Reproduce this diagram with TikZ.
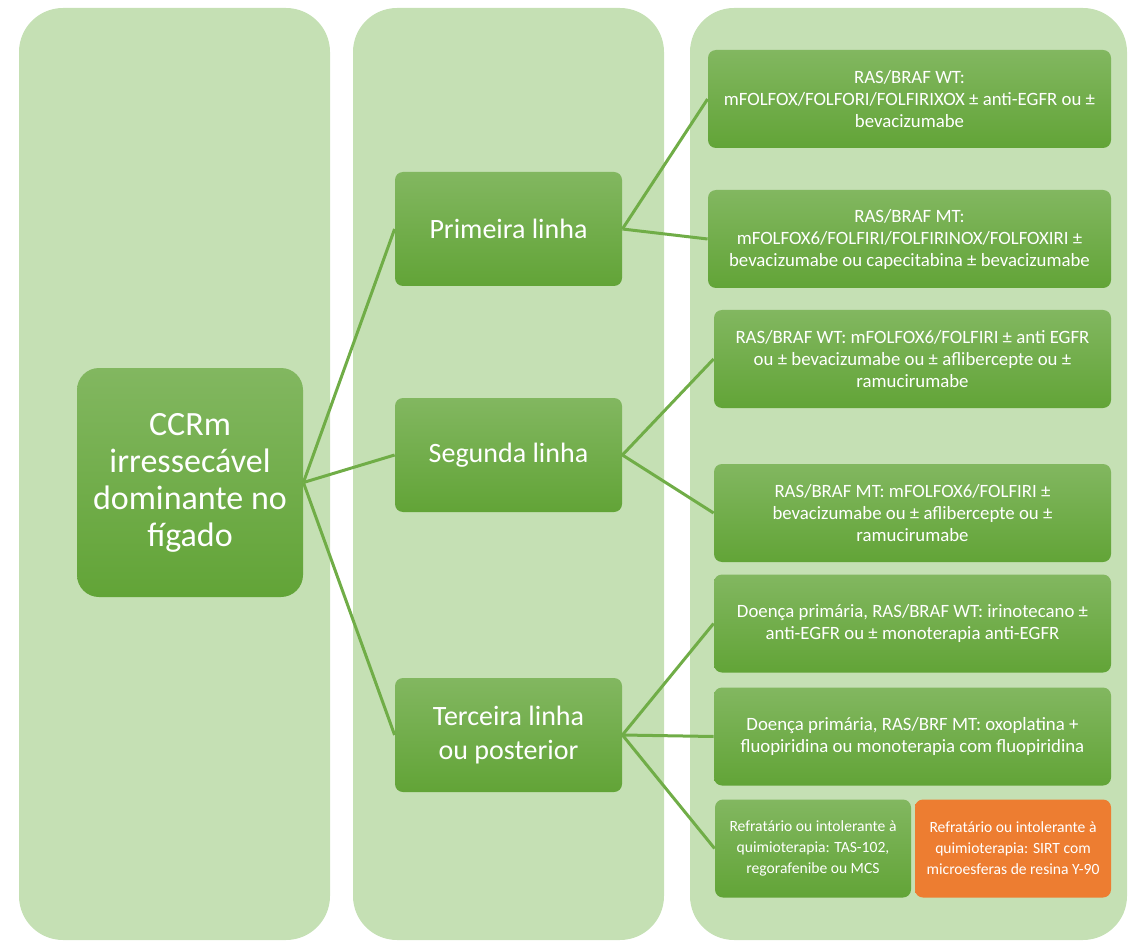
\documentclass[tikz,border=0pt]{standalone}
\usepackage{fontspec}
\setmainfont{Carlito}
\definecolor{colbg}{HTML}{C5E0B4}
\definecolor{boxtop}{HTML}{82B760}
\definecolor{boxbot}{HTML}{62A437}
\definecolor{linkgreen}{HTML}{70AD47}
\definecolor{sirtorange}{HTML}{ED7D31}
\begin{document}
\begin{tikzpicture}[x=0.5pt,y=-0.5pt,
  lane/.style={fill=colbg,rounded corners=22pt},
  greenbox/.style={top color=boxtop,bottom color=boxbot,rounded corners=4pt,
    text=white,align=center,inner sep=0pt},
  rootbox/.style={greenbox,rounded corners=11pt,minimum width=113pt,minimum height=114.5pt,
    font=\fontsize{17}{18.5}\selectfont},
  linebox/.style={greenbox,minimum width=113.5pt,minimum height=57pt,
    font=\fontsize{14}{17}\selectfont},
  wideopt/.style={greenbox,minimum width=201.5pt,minimum height=49pt,
    font=\fontsize{9.4}{11}\selectfont},
  opt/.style={greenbox,minimum width=198.5pt,minimum height=49pt,
    font=\fontsize{9.4}{11}\selectfont},
  halfopt/.style={greenbox,minimum width=98pt,minimum height=49pt,
    font=\fontsize{7.8}{10.5}\selectfont},
  link/.style={draw=linkgreen,line width=1.5pt}]
\useasboundingbox (0,0) rectangle (1135,941);
% the three lanes
\fill[lane] (19,8) rectangle (330,940);
\fill[lane] (353,8) rectangle (664,940);
\fill[lane] (690,8) rectangle (1127,940);
% root and lines of treatment
\node[rootbox] (ccrm) at (190,482.5) {CCRm\\irressecável\\dominante no\\fígado};
\node[linebox] (primeira) at (508.5,229) {Primeira linha};
\node[linebox] (segunda) at (508.5,455) {Segunda linha};
\node[linebox] (terceira) at (508.5,735) {Terceira linha\\ou posterior};
% options
\node[wideopt] (pwt) at (909.5,99) {RAS/BRAF WT:\\mFOLFOX/FOLFORI/FOLFIRIXOX ± anti-EGFR ou ±\\bevacizumabe};
\node[wideopt] (pmt) at (909.5,239) {RAS/BRAF MT:\\mFOLFOX6/FOLFIRI/FOLFIRINOX/FOLFOXIRI ±\\bevacizumabe ou capecitabina ± bevacizumabe};
\node[opt] (swt) at (912.5,359) {RAS/BRAF WT: mFOLFOX6/FOLFIRI ± anti EGFR\\ou ± bevacizumabe ou ± aflibercepte ou ±\\ramucirumabe};
\node[opt] (smt) at (912.5,513) {RAS/BRAF MT: mFOLFOX6/FOLFIRI ±\\bevacizumabe ou ± aflibercepte ou ±\\ramucirumabe};
\node[opt] (twt) at (912.5,623.5) {Doença primária, RAS/BRAF WT: irinotecano ±\\anti-EGFR ou ± monoterapia anti-EGFR};
\node[opt] (tmt) at (912.5,736.5) {Doença primária, RAS/BRF MT: oxoplatina +\\fluopiridina ou monoterapia com fluopiridina};
\node[halfopt] (tref) at (813,848.5) {Refratário ou intolerante à\\quimioterapia: TAS-102,\\regorafenibe ou MCS};
\node[halfopt,top color=sirtorange,bottom color=sirtorange] (sirt) at (1013,848.5) {Refratário ou intolerante à\\quimioterapia: SIRT com\\microesferas de resina Y-90};
% connectors
\draw[link] (ccrm.east) -- (primeira.west);
\draw[link] (ccrm.east) -- (segunda.west);
\draw[link] (ccrm.east) -- (terceira.west);
\draw[link] (primeira.east) -- (pwt.west);
\draw[link] (primeira.east) -- (pmt.west);
\draw[link] (segunda.east) -- (swt.west);
\draw[link] (segunda.east) -- (smt.west);
\draw[link] (terceira.east) -- (twt.west);
\draw[link] (terceira.east) -- (tmt.west);
\draw[link] (terceira.east) -- (tref.west);
\end{tikzpicture}
\end{document}
